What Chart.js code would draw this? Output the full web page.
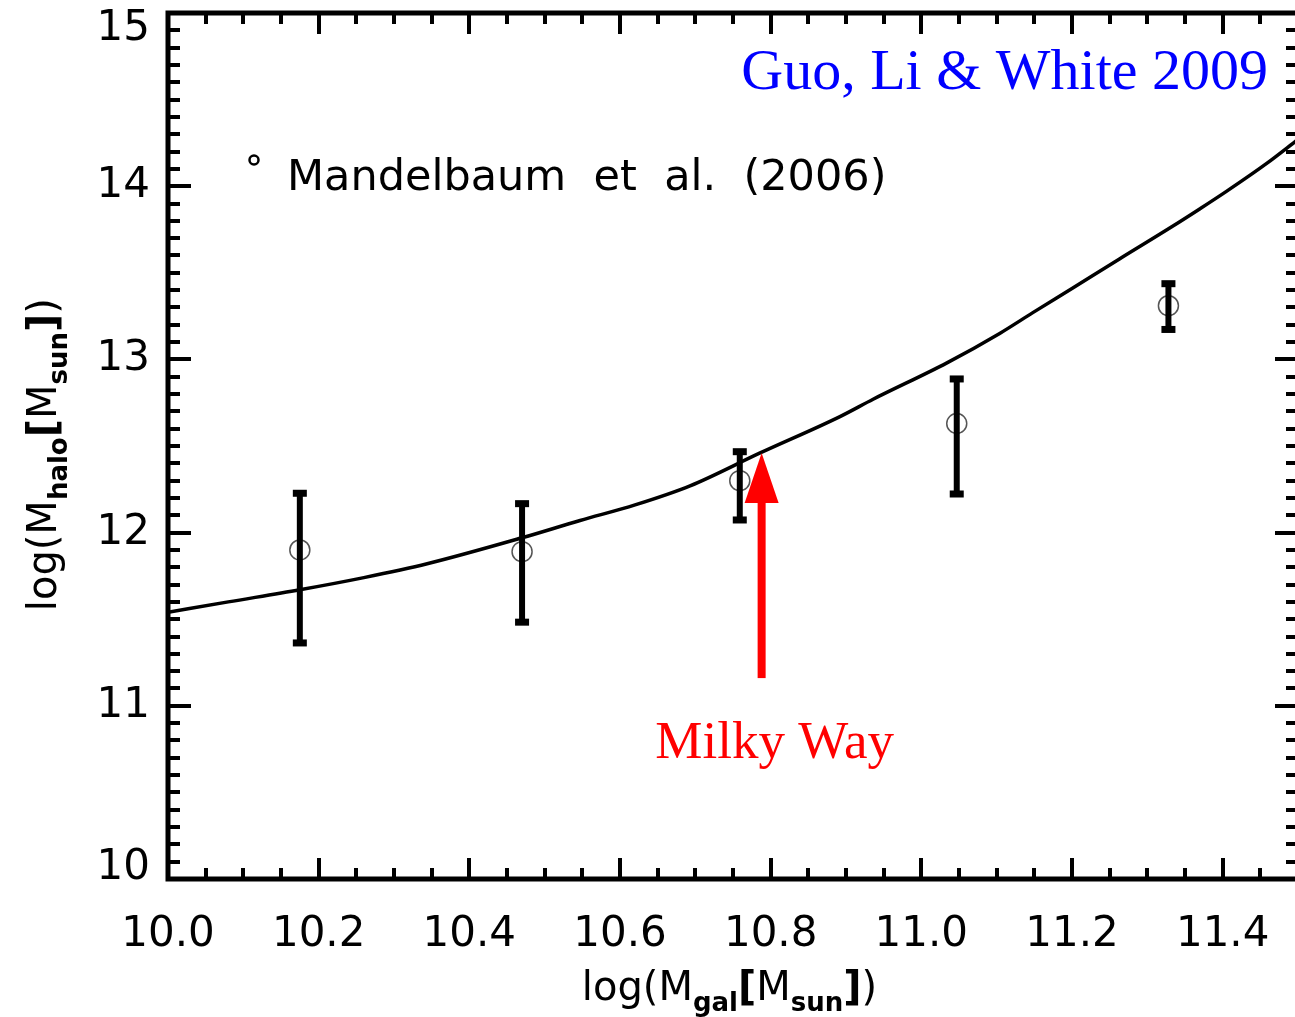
<!DOCTYPE html>
<html>
<head>
<meta charset="utf-8">
<script src="https://cdn.jsdelivr.net/npm/chart.js@4.4.1/dist/chart.umd.min.js"></script>
<style>
  html, body { margin: 0; padding: 0; background: #fff; overflow: hidden; }
  #wrap { position: relative; width: 1310px; height: 1017px; }
</style>
</head>
<body>
<div id="wrap"><canvas id="haloChart"></canvas></div>
<script>
// model curve (Guo, Li & White 2009)
const curveX = [10.00, 10.08, 10.175, 10.26, 10.344, 10.47, 10.547, 10.62, 10.693, 10.786, 10.892, 10.936, 11.034, 11.104, 11.148, 11.20, 11.263, 11.334, 11.37, 11.405, 11.458, 11.50];
const curveY = [11.54, 11.60, 11.67, 11.74, 11.82, 11.97, 12.07, 12.16, 12.27, 12.46, 12.67, 12.77, 12.98, 13.15, 13.27, 13.41, 13.58, 13.77, 13.87, 13.97, 14.13, 14.27];

// Mandelbaum et al. (2006) points with error bars
const obsX = [10.175, 10.470, 10.759, 11.047, 11.328];
const obsY = [11.90, 11.89, 12.30, 12.63, 13.31];
const obsHi = [12.23, 12.17, 12.47, 12.89, 13.44];
const obsLo = [11.36, 11.48, 12.07, 12.22, 13.17];

// axis ticks
const xTickLabels = ['10.0', '10.2', '10.4', '10.6', '10.8', '11.0', '11.2', '11.4'];
const yTickLabels = ['10', '11', '12', '13', '14', '15'];

// Milky Way arrow (data units)
const mwX = 10.788;
const mwTip = 12.46;
const mwTail = 11.16;

const FONT = '"DejaVu Sans", sans-serif';

function drawRich(ctx, parts, x, y, align) {
  let total = 0;
  parts.forEach(p => {
    ctx.font = (p.bold ? 'bold ' : '') + p.size + 'px ' + FONT;
    p.w = ctx.measureText(p.t).width;
    total += p.w;
  });
  let cx = align === 'center' ? x - total / 2 : x;
  ctx.textAlign = 'left';
  ctx.textBaseline = 'alphabetic';
  parts.forEach(p => {
    ctx.font = (p.bold ? 'bold ' : '') + p.size + 'px ' + FONT;
    ctx.fillText(p.t, cx, y + (p.dy || 0));
    cx += p.w;
  });
}

const framePlugin = {
  id: 'frame',
  afterDatasetsDraw(chart) {
    const ctx = chart.ctx;
    const xs = chart.scales.x, ys = chart.scales.y;
    // error bars
    ctx.save();
    ctx.strokeStyle = '#000';
    ctx.fillStyle = '#000';
    obsX.forEach((v, i) => {
      const px = xs.getPixelForValue(v);
      const top = ys.getPixelForValue(obsHi[i]);
      const bot = ys.getPixelForValue(obsLo[i]);
      ctx.lineWidth = 6;
      ctx.beginPath();
      ctx.moveTo(px, top);
      ctx.lineTo(px, bot);
      ctx.stroke();
      ctx.fillRect(px - 7, top - 3, 14, 7);
      ctx.fillRect(px - 7, bot - 4, 14, 7);
    });

    // Milky Way arrow
    const ax = xs.getPixelForValue(mwX);
    const tip = ys.getPixelForValue(mwTip);
    const tail = ys.getPixelForValue(mwTail);
    ctx.fillStyle = '#ff0000';
    ctx.fillRect(ax - 4, tip + 45, 8, tail - tip - 45);
    ctx.beginPath();
    ctx.moveTo(ax, tip);
    ctx.lineTo(ax + 17, tip + 50);
    ctx.lineTo(ax - 17, tip + 50);
    ctx.closePath();
    ctx.fill();
    ctx.font = '53px "Liberation Serif", "Times New Roman", serif';
    ctx.textAlign = 'center';
    ctx.textBaseline = 'alphabetic';
    ctx.fillText('Milky Way', ax + 13, tail + 80);
    ctx.restore();
  },
  afterDraw(chart) {
    const ctx = chart.ctx;
    const a = chart.chartArea;
    const xs = chart.scales.x, ys = chart.scales.y;
    ctx.save();
    ctx.fillStyle = '#000';

    // frame
    ctx.strokeStyle = '#000';
    ctx.lineWidth = 5;
    ctx.strokeRect(a.left, a.top, a.right - a.left, a.bottom - a.top);

    // x ticks (bottom and top), minor every 0.05
    ctx.lineWidth = 4;
    ctx.beginPath();
    for (let i = 0; i <= 30; i++) {
      const px = Math.round(xs.getPixelForValue(10 + i * 0.05));
      const len = i % 4 === 0 ? 21 : 11;
      ctx.moveTo(px, a.bottom); ctx.lineTo(px, a.bottom - len);
      ctx.moveTo(px, a.top); ctx.lineTo(px, a.top + len);
    }
    // y ticks (left and right), minor every 0.1
    for (let i = 0; i <= 50; i++) {
      const py = Math.round(ys.getPixelForValue(10 + i * 0.1));
      const len = i % 10 === 0 ? 23 : 12;
      ctx.moveTo(a.left, py); ctx.lineTo(a.left + len, py);
      ctx.moveTo(a.right, py); ctx.lineTo(a.right - len, py);
    }
    ctx.stroke();

    // tick labels
    ctx.font = '42px ' + FONT;
    ctx.textAlign = 'center';
    ctx.textBaseline = 'alphabetic';
    xTickLabels.forEach(t => {
      ctx.fillText(t, xs.getPixelForValue(parseFloat(t)), a.bottom + 67);
    });
    ctx.textAlign = 'right';
    ctx.textBaseline = 'middle';
    yTickLabels.forEach(t => {
      let py = ys.getPixelForValue(parseFloat(t));
      py = Math.min(Math.max(py, a.top + 16), a.bottom - 11);
      ctx.fillText(t, a.left - 18, py);
    });

    // axis titles
    drawRich(ctx, [
      { t: 'log(M', size: 40 },
      { t: 'gal', size: 26, dy: 11, bold: true },
      { t: '[', size: 40, bold: true },
      { t: 'M', size: 40 },
      { t: 'sun', size: 26, dy: 11, bold: true },
      { t: ']', size: 40, bold: true },
      { t: ')', size: 40 }
    ], (a.left + 1295) / 2 - 2, a.bottom + 121, 'center');

    ctx.save();
    ctx.translate(56, ys.getPixelForValue(12.45));
    ctx.rotate(-Math.PI / 2);
    drawRich(ctx, [
      { t: 'log(M', size: 40 },
      { t: 'halo', size: 26, dy: 11, bold: true },
      { t: '[', size: 40, bold: true },
      { t: 'M', size: 40 },
      { t: 'sun', size: 26, dy: 11, bold: true },
      { t: ']', size: 40, bold: true },
      { t: ')', size: 40 }
    ], 0, 0, 'center');
    ctx.restore();

    // legend
    ctx.lineWidth = 2.5;
    ctx.beginPath();
    ctx.arc(a.left + 86, a.top + 147, 4.5, 0, Math.PI * 2);
    ctx.stroke();
    ctx.font = '43px ' + FONT;
    ctx.textAlign = 'left';
    ctx.textBaseline = 'alphabetic';
    ctx.fillText('Mandelbaum  et  al.  (2006)', a.left + 119, a.top + 177);

    // credit
    ctx.fillStyle = '#0000ff';
    ctx.font = '58px "Liberation Serif", "Times New Roman", serif';
    ctx.textAlign = 'right';
    ctx.fillText('Guo, Li & White 2009', 1268, a.top + 76);
    ctx.restore();
  }
};

new Chart(document.getElementById('haloChart').getContext('2d'), {
  type: 'scatter',
  data: {
    datasets: [
      {
        label: 'Guo, Li & White 2009',
        data: curveX.map((x, i) => ({ x: x, y: curveY[i] })),
        showLine: true,
        borderColor: '#000',
        borderWidth: 3.5,
        pointRadius: 0,
        cubicInterpolationMode: 'monotone'
      },
      {
        label: 'Mandelbaum et al. (2006)',
        data: obsX.map((x, i) => ({ x: x, y: obsY[i] })),
        pointStyle: 'circle',
        pointRadius: 10,
        borderWidth: 1.5,
        borderColor: '#555',
        backgroundColor: 'rgba(0,0,0,0)'
      }
    ]
  },
  options: {
    responsive: true,
    maintainAspectRatio: false,
    animation: false,
    layout: { padding: { left: 168, top: 13, right: 12, bottom: 138 } },
    scales: {
      x: { type: 'linear', min: 10, max: 11.5, display: false },
      y: { type: 'linear', min: 10, max: 15, display: false }
    },
    plugins: {
      legend: { display: false },
      tooltip: { enabled: false }
    }
  },
  plugins: [framePlugin]
});
</script>
</body>
</html>
